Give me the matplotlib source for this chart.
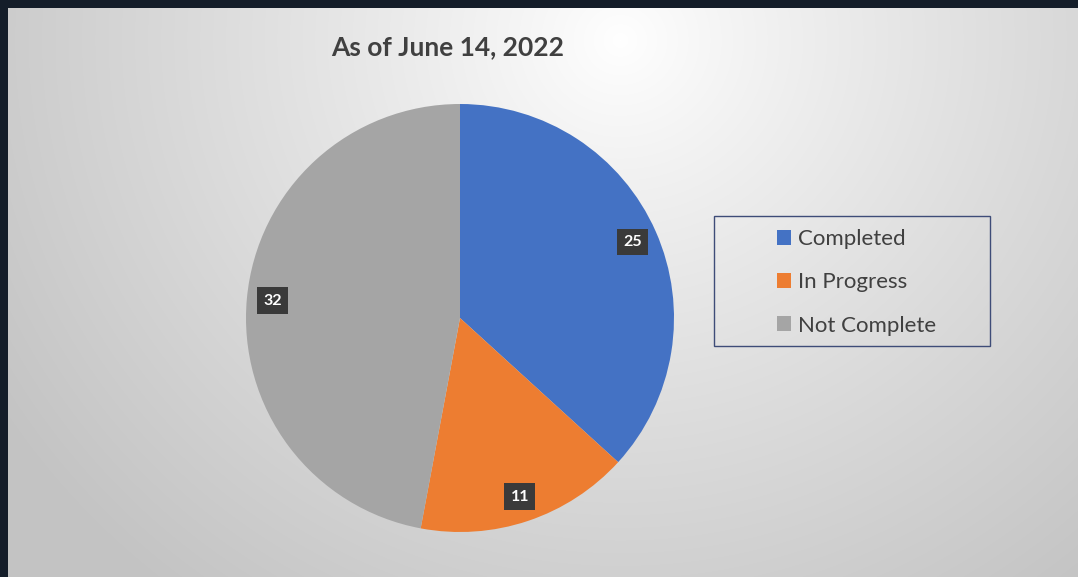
import numpy as np
import matplotlib.pyplot as plt
from matplotlib.patches import Patch, Rectangle

plt.rcParams['font.family'] = ['Lato', 'DejaVu Sans']

# data
labels = ['Completed', 'In Progress', 'Not Complete']
values = [25, 11, 32]
colors = ['#4472c4', '#ed7d31', '#a5a5a5']
title = 'As of June 14, 2022'

W, H = 1078, 577
fig = plt.figure(figsize=(W / 100, H / 100), dpi=100)
fig.patch.set_facecolor('#141d29')

# slide background with a soft radial gradient
bg = fig.add_axes([0, 0, 1, 1])
bg.set_xlim(0, W)
bg.set_ylim(H, 0)
bg.axis('off')
yy, xx = np.mgrid[8:H, 8:W]
d = np.hypot(xx - 620, (yy - 40) * 1.05)
shade = np.clip(255 - 57 * (d / 700) ** 0.9, 195, 255) / 255
img = np.dstack([shade, shade, shade])
bg.imshow(img, extent=(8, W, H, 8), aspect='auto', zorder=0)

bg.text(448, 47, title, ha='center', va='center', fontsize=19,
        fontweight='bold', color='#404040')

# legend frame
bg.add_patch(Rectangle((714, 216), 276, 130, fill=False, ec='#3e4c78', lw=1.0, zorder=2))

# pie
ax = fig.add_axes([246 / W, (H - 532) / H, 428 / W, 428 / H])
total = sum(values)
wedges, texts, autotexts = ax.pie(
    values, colors=colors, startangle=90, counterclock=False,
    autopct=lambda p: '%d' % round(p * total / 100), pctdistance=0.88,
    wedgeprops=dict(linewidth=0))
for t in autotexts:
    t.set_color('white')
    t.set_fontweight('bold')
    t.set_fontsize(11.5)
    t.set_bbox(dict(boxstyle='square,pad=0.4', fc='#3a3a3a', ec='none'))
ax.set_xlim(-1, 1)
ax.set_ylim(-1, 1)

handles = [Patch(facecolor=c, edgecolor='none', label=l) for c, l in zip(colors, labels)]
fig.legend(handles=handles, loc='upper left', bbox_to_anchor=(757 / W, 1 - 209 / H),
           frameon=False, fontsize=16, handlelength=0.65, handleheight=0.65,
           handletextpad=0.3, labelspacing=1.05, labelcolor='#404040')

plt.savefig('out.png', dpi=100, facecolor=fig.get_facecolor())
